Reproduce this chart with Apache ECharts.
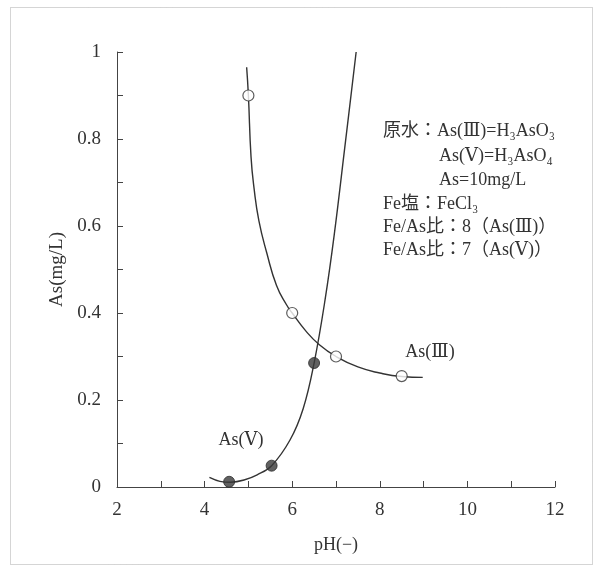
<!DOCTYPE html>
<html>
<head>
<meta charset="utf-8">
<script src="https://cdn.jsdelivr.net/npm/echarts@6/dist/echarts.min.js"></script>
<style>
  html, body { margin: 0; padding: 0; background: #fff; }
  #chart { width: 594px; height: 568px; }
</style>
</head>
<body>
<div id="chart"></div>
<script>
// measured points (pH, As mg/L)
const as3Points = [[5.0, 0.90], [6.0, 0.40], [7.0, 0.30], [8.5, 0.255]]
const as5Points = [[4.56, 0.012], [5.53, 0.049], [6.5, 0.285]]

// fitted curves
const as3Curve = [[4.96, 0.965], [5.0, 0.90], [5.06, 0.759], [5.13, 0.686], [5.24, 0.612], [5.42, 0.538], [5.64, 0.464], [5.87, 0.419], [6.0, 0.40], [6.3, 0.36], [6.62, 0.327], [7.0, 0.30], [7.5, 0.276], [8.0, 0.262], [8.5, 0.254], [8.98, 0.252]]
const as5Curve = [[4.11, 0.022], [4.35, 0.013], [4.6, 0.011], [4.9, 0.016], [5.2, 0.028], [5.53, 0.049], [5.95, 0.108], [6.25, 0.18], [6.5, 0.285], [6.75, 0.43], [6.96, 0.58], [7.2, 0.78], [7.46, 1.0]]

// note lines
const noteLines = [
  '原水：As(Ⅲ)=H₃AsO₃',
  'As(Ⅴ)=H₃AsO₄',
  'As=10mg/L',
  'Fe塩：FeCl₃',
  'Fe/As比：8（As(Ⅲ)）',
  'Fe/As比：7（As(Ⅴ)）'
]
const noteX = [383, 439, 439, 383, 383, 383]
const noteY = [131, 156, 180, 204, 227, 250]

const serif = '"Liberation Serif", "DejaVu Serif", "Noto Sans CJK JP", serif'
const ink = '#333'

const chart = echarts.init(document.getElementById('chart'))

const graphics = [
  {
    type: 'rect',
    shape: { x: 10.5, y: 7.5, width: 582, height: 557 },
    style: { fill: 'none', stroke: '#aaa', lineWidth: 1, lineDash: [1, 1] },
    silent: true
  },
  {
    type: 'text', x: 241, y: 440,
    style: { text: 'As(Ⅴ)', font: '18px ' + serif, fill: ink, align: 'center', verticalAlign: 'middle' }
  },
  {
    type: 'text', x: 430, y: 352,
    style: { text: 'As(Ⅲ)', font: '18px ' + serif, fill: ink, align: 'center', verticalAlign: 'middle' }
  }
]
noteLines.forEach((t, i) => {
  graphics.push({
    type: 'text', x: noteX[i], y: noteY[i],
    style: { text: t, font: '18px ' + serif, fill: ink, align: 'left', verticalAlign: 'middle' }
  })
})

const option = {
  animation: false,
  backgroundColor: '#fff',
  grid: { left: 117, right: 39, top: 52, bottom: 81, containLabel: false },
  xAxis: {
    type: 'value',
    min: 2,
    max: 12,
    interval: 1,
    name: 'pH(−)',
    nameLocation: 'middle',
    nameGap: 49,
    nameTextStyle: { fontFamily: serif, fontSize: 18, color: ink },
    axisLine: { lineStyle: { color: '#444', width: 1 } },
    axisTick: { inside: true, length: 6, lineStyle: { color: '#444' } },
    splitLine: { show: false },
    axisLabel: {
      fontFamily: serif, fontSize: 19, color: ink, margin: 14,
      formatter: v => (Math.round(v) % 2 === 0 ? String(Math.round(v)) : '')
    }
  },
  yAxis: {
    type: 'value',
    min: 0,
    max: 1,
    interval: 0.1,
    name: 'As(mg/L)',
    nameLocation: 'middle',
    nameGap: 48,
    nameTextStyle: { fontFamily: serif, fontSize: 19, color: ink },
    axisLine: { show: true, lineStyle: { color: '#444', width: 1 } },
    axisTick: { show: true, inside: true, length: 6, lineStyle: { color: '#444' } },
    splitLine: { show: false },
    axisLabel: {
      fontFamily: serif, fontSize: 19, color: ink, margin: 16,
      formatter: v => {
        const t = Math.round(v * 10)
        return t % 2 === 0 ? String(t / 10) : ''
      }
    }
  },
  series: [
    {
      type: 'line', data: as3Curve, smooth: 0.5, showSymbol: false,
      lineStyle: { color: ink, width: 1.4 }, silent: true, z: 2
    },
    {
      type: 'line', data: as5Curve, smooth: 0.4, showSymbol: false,
      lineStyle: { color: ink, width: 1.4 }, silent: true, z: 2
    },
    {
      type: 'scatter', data: as3Points, symbol: 'circle', symbolSize: 11,
      itemStyle: { color: '#fff', borderColor: ink, borderWidth: 1.2 }, z: 3
    },
    {
      type: 'scatter', data: as5Points, symbol: 'circle', symbolSize: 11,
      itemStyle: { color: '#3a3a3a', borderColor: '#2a2a2a', borderWidth: 1 }, z: 3
    }
  ],
  graphic: graphics
}

chart.setOption(option)
</script>
</body>
</html>
